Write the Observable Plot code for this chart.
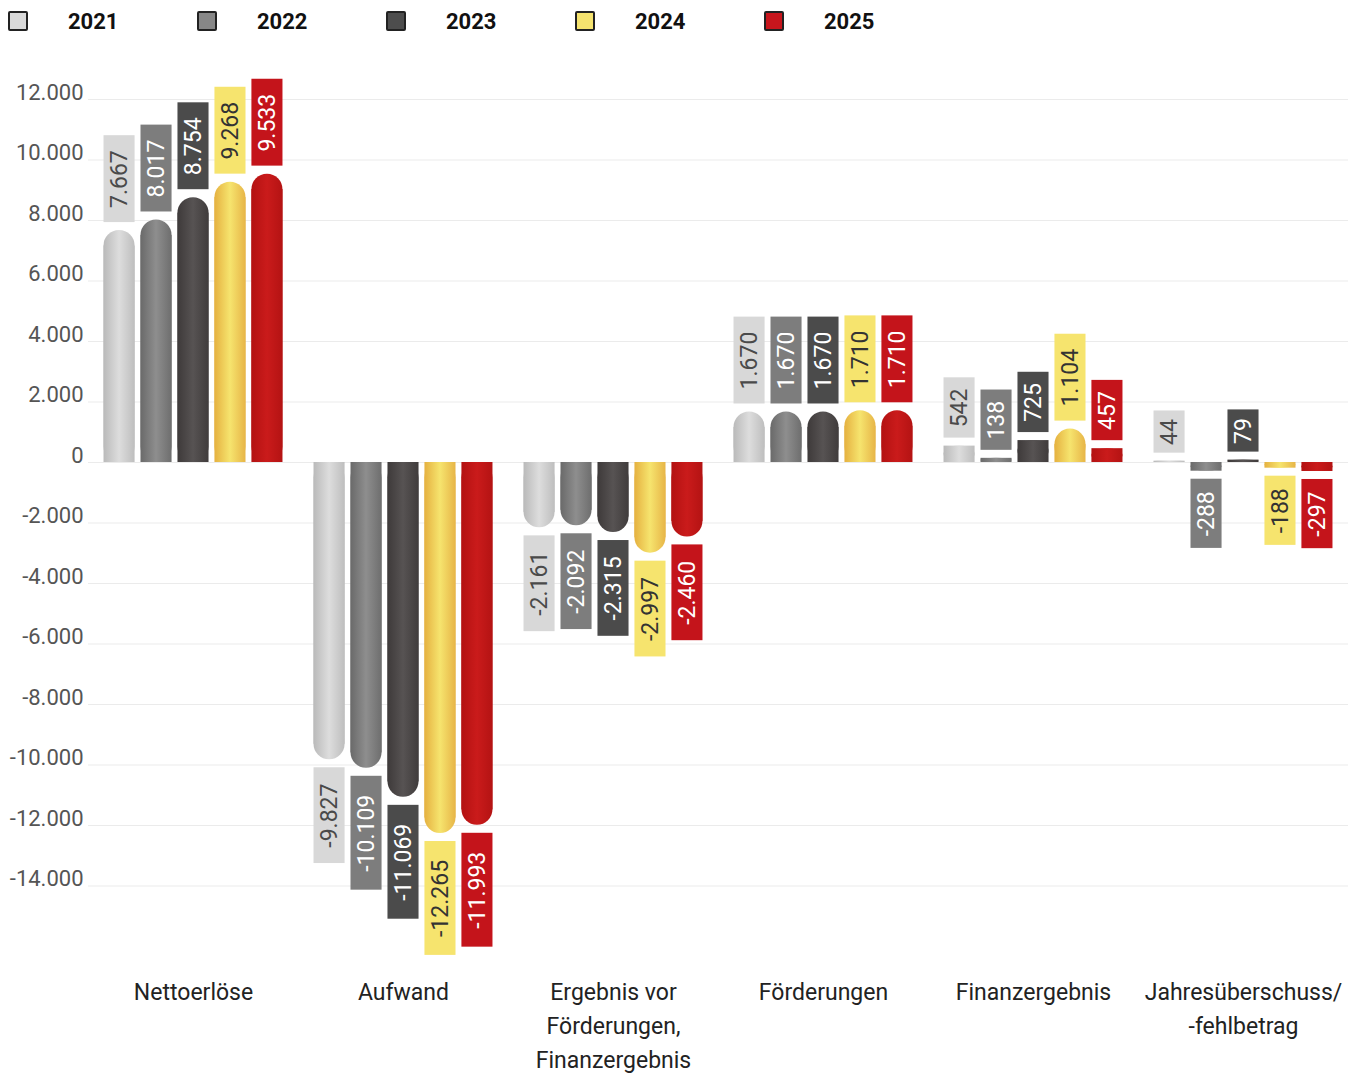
<!DOCTYPE html>
<html>
<head>
<meta charset="utf-8">
<script src="https://cdn.jsdelivr.net/npm/d3@7"></script>
<script src="https://cdn.jsdelivr.net/npm/@observablehq/plot@0.6"></script>
<style>
  html, body { margin: 0; padding: 0; background: #fff; }
  body { width: 1359px; height: 1077px; overflow: hidden; font-family: Roboto, sans-serif; }
  #legend { height: 42px; display: flex; align-items: center; }
  .item { width: 189px; display: flex; align-items: center; }
  .sw { width: 16px; height: 16px; border: 2px solid #222; border-radius: 2px; margin-left: 8px; }
  .lab { margin-left: 40px; font-weight: 700; font-size: 22px; color: #111; }
</style>
</head>
<body>
<div id="legend"></div>
<div id="chart"></div>
<script>
const categories = ["Nettoerlöse", "Aufwand", "Ergebnis vor Förderungen, Finanzergebnis", "Förderungen", "Finanzergebnis", "Jahresüberschuss/-fehlbetrag"];
const categoryLabels = ["Nettoerlöse", "Aufwand", "Ergebnis vor\nFörderungen,\nFinanzergebnis", "Förderungen", "Finanzergebnis", "Jahresüberschuss/\n-fehlbetrag"];
const years = ["2021", "2022", "2023", "2024", "2025"];
const values2021 = [7667, -9827, -2161, 1670, 542, 44];
const values2022 = [8017, -10109, -2092, 1670, 138, -288];
const values2023 = [8754, -11069, -2315, 1670, 725, 79];
const values2024 = [9268, -12265, -2997, 1710, 1104, -188];
const values2025 = [9533, -11993, -2460, 1710, 457, -297];
const yTicks = [12000, 10000, 8000, 6000, 4000, 2000, 0, -2000, -4000, -6000, -8000, -10000, -12000, -14000];

const legendColors = ["#d9d9d9", "#878787", "#4d4d4d", "#f5e36f", "#c8161d"];
const gradientStops = [
  ["#bababa", "#dddddd", "#bebebe"],
  ["#6a6a6a", "#8e8e8e", "#6e6e6e"],
  ["#3e3a3a", "#575353", "#403c3c"],
  ["#e5b140", "#f6e46e", "#e7b547"],
  ["#b31212", "#ca1b1b", "#b41313"]
];
const boxColors = ["#d8d8d8", "#7d7d7d", "#4b4b4b", "#f6e46e", "#c4141b"];
const textColors = ["#4a4a4a", "#ffffff", "#ffffff", "#333333", "#ffffff"];

const seriesValues = [values2021, values2022, values2023, values2024, values2025];

// legend
const legend = document.getElementById("legend");
years.forEach((y, i) => {
  const it = document.createElement("div");
  it.className = "item";
  it.innerHTML = `<div class="sw" style="background:${legendColors[i]}"></div><div class="lab">${y}</div>`;
  legend.appendChild(it);
});

const locale = d3.formatLocale({decimal: ",", thousands: ".", grouping: [3], currency: ["", " €"], minus: "-"});
const fmt = locale.format(",d");

const W = 1359, H = 1035, mT = 57, mB = 191.5, mL = 88, mR = 11;
const k = (H - mT - mB) / (12000 - (-14000)); // px per unit
const barR = 15.5;
const gapPx = 8;
const fontSize = 23;

const ctx = document.createElement("canvas").getContext("2d");
ctx.font = `${fontSize}px Roboto`;

const rows = [];
categories.forEach((c, ci) => {
  years.forEach((y, yi) => {
    const v = seriesValues[yi][ci];
    const s = v < 0 ? -1 : 1;
    const label = fmt(v);
    const len = ctx.measureText(label).width * 1.4 + 6;
    const b1 = v + s * gapPx / k;
    const b2 = b1 + s * len / k;
    const sq = Math.abs(v) * k >= 2 * barR ? v - s * barR / k : v;
    rows.push({cat: c, year: y, yi, value: v, label, b1, b2, mid: (b1 + b2) / 2, sq});
  });
});

const plot = Plot.plot({
  width: W, height: H,
  marginTop: mT, marginBottom: mB, marginLeft: mL, marginRight: mR,
  style: {fontFamily: "Roboto, sans-serif", background: "#fff", overflow: "visible"},
  fx: {domain: categories, padding: 0, round: false},
  x: {domain: years, paddingInner: 0.16, paddingOuter: 0.42, round: false, axis: null},
  y: {domain: [-14000, 12000]},
  color: {type: "identity"},
  marks: [
    Plot.gridY(yTicks, {stroke: "#ebebeb", strokeOpacity: 1, strokeWidth: 1.2}),
    Plot.axisY(yTicks, {tickSize: 0, tickPadding: 5, dy: -7, tickFormat: fmt, fontSize: 22, color: "#555", label: null}),
    Plot.barY(rows, {fx: "cat", x: "year", y1: 0, y2: "value", rx: barR, fill: d => `url(#grad${d.year})`}),
    Plot.barY(rows, {fx: "cat", x: "year", y1: 0, y2: "sq", fill: d => `url(#grad${d.year})`}),
    Plot.barY(rows, {fx: "cat", x: "year", y1: "b1", y2: "b2", fill: d => boxColors[d.yi]}),
    Plot.text(rows, {fx: "cat", x: "year", y: "mid", text: "label", rotate: -90, fontSize, fill: d => textColors[d.yi]}),
    Plot.axisFx({anchor: "bottom", tickSize: 0, tickPadding: 90, fontSize: 23, lineHeight: 1.48, color: "#222", label: null,
      tickFormat: c => categoryLabels[categories.indexOf(c)]})
  ]
});

const defs = d3.select(plot).insert("defs", ":first-child");
years.forEach((y, i) => {
  const g = defs.append("linearGradient").attr("id", `grad${y}`).attr("x1", "0").attr("x2", "1").attr("y1", "0").attr("y2", "0");
  g.append("stop").attr("offset", "0%").attr("stop-color", gradientStops[i][0]);
  g.append("stop").attr("offset", "50%").attr("stop-color", gradientStops[i][1]);
  g.append("stop").attr("offset", "100%").attr("stop-color", gradientStops[i][2]);
});

document.getElementById("chart").appendChild(plot);
</script>
</body>
</html>
